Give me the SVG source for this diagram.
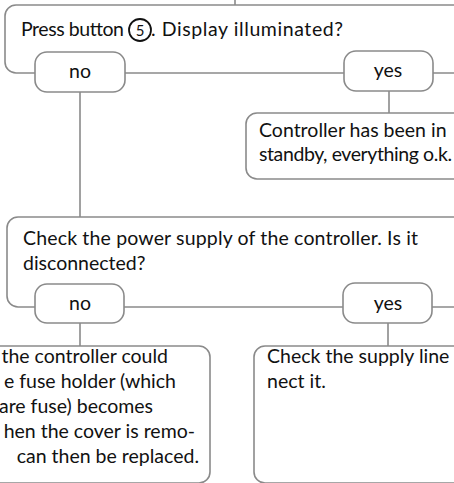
<svg xmlns="http://www.w3.org/2000/svg" width="454" height="483" viewBox="0 0 454 483">
<style>
.box{fill:#fff;stroke:#8a8a8a;stroke-width:1.6}
.pill{fill:#fff;stroke:#8a8a8a;stroke-width:1.6}
.ln{fill:none;stroke:#8a8a8a;stroke-width:1.6}
text{font-family:Lato,"Open Sans","Liberation Sans",sans-serif;font-size:19.5px;fill:#111}
.c{text-anchor:middle}
.e{text-anchor:end}
</style>
<rect width="454" height="483" fill="#fff"/>
<g id="connectors">
<line class="ln" x1="235" y1="0" x2="235" y2="5"/>
<line class="ln" x1="80" y1="92" x2="80" y2="217"/>
<line class="ln" x1="389" y1="91" x2="389" y2="113"/>
<line class="ln" x1="80" y1="323" x2="80" y2="346"/>
<line class="ln" x1="388" y1="323" x2="388" y2="346"/>
</g>
<g id="q1">
<rect class="box" x="5" y="5" width="480" height="68" rx="11"/>
<text x="21" y="36" textLength="103" lengthAdjust="spacing">Press button</text>
<circle cx="140" cy="30" r="11" fill="none" stroke="#111" stroke-width="1.8"/>
<text x="140" y="35.5" class="c" style="font-size:15px">5</text>
<text x="151" y="36" textLength="192" lengthAdjust="spacing">. Display illuminated?</text>
</g>
<g id="no1">
<rect class="pill" x="35" y="52" width="90" height="40" rx="12"/>
<text x="80" y="78" class="c">no</text>
</g>
<g id="yes1">
<rect class="pill" x="344" y="51" width="89" height="40" rx="12"/>
<text x="388" y="77" class="c">yes</text>
</g>
<g id="standby">
<rect class="box" x="246" y="113" width="240" height="66" rx="11"/>
<text x="259" y="137">Controller has been in</text>
<text x="259" y="161" textLength="193" lengthAdjust="spacing">standby, everything o.k.</text>
</g>
<g id="q2">
<rect class="box" x="7" y="217" width="480" height="90" rx="11"/>
<text x="23" y="245" textLength="395" lengthAdjust="spacing">Check the power supply of the controller. Is it</text>
<text x="23" y="270">disconnected?</text>
</g>
<g id="no2">
<rect class="pill" x="35" y="284" width="89" height="39" rx="12"/>
<text x="80" y="310" class="c">no</text>
</g>
<g id="yes2">
<rect class="pill" x="343" y="283" width="89" height="40" rx="12"/>
<text x="388" y="310" class="c">yes</text>
</g>
<g id="fuse">
<rect class="box" x="-250" y="346" width="460" height="137" rx="11"/>
<text x="168" y="363" class="e">the controller could</text>
<text x="176" y="388" class="e">e fuse holder (which</text>
<text x="153" y="413" class="e">are fuse) becomes</text>
<text x="195" y="438" class="e">hen the cover is remo-</text>
<text x="199" y="463" class="e">can then be replaced.</text>
</g>
<g id="supply">
<rect class="box" x="254" y="346" width="240" height="137" rx="11"/>
<text x="267" y="363">Check the supply line</text>
<text x="267" y="388">nect it.</text>
</g>
</svg>
